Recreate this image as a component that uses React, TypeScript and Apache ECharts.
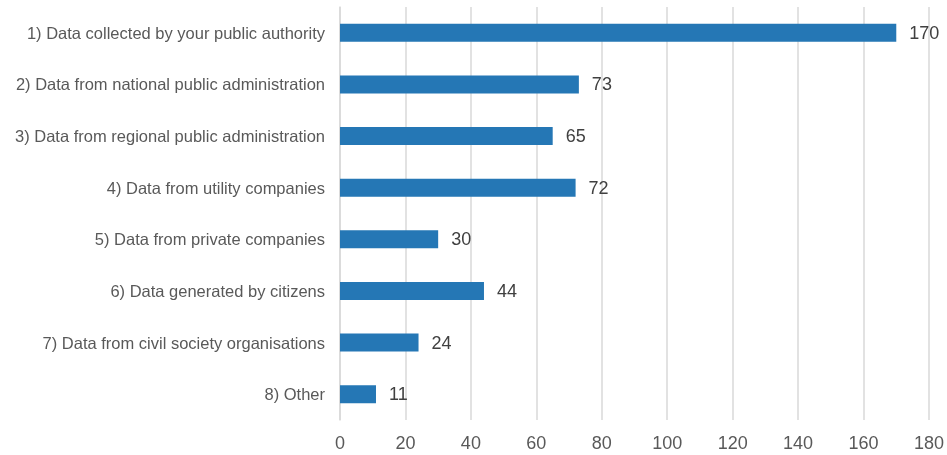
import React, { useEffect, useRef } from "react";
import * as echarts from "echarts";

const categories = [
  "1) Data collected by your public authority",
  "2) Data from national public administration",
  "3) Data from regional public administration",
  "4) Data from utility companies",
  "5) Data from private companies",
  "6) Data generated by citizens",
  "7) Data from civil society organisations",
  "8) Other",
];
const values = [170, 73, 65, 72, 30, 44, 24, 11];
const xMin = 0;
const xMax = 180;
const xInterval = 20;

const FONT = "'Liberation Sans', Arial, sans-serif";

export default function App() {
  const ref = useRef<HTMLDivElement>(null);
  useEffect(() => {
    if (!ref.current) return;
    const chart = echarts.init(ref.current, undefined, { renderer: "svg" });
    chart.setOption({
      animation: false,
      grid: {
        left: 340,
        right: 18,
        top: 7,
        bottom: 35,
        containLabel: false,
        outerBoundsMode: "none",
      },
      xAxis: {
        type: "value",
        min: xMin,
        max: xMax,
        interval: xInterval,
        axisLine: { show: false },
        axisTick: { show: false },
        splitLine: { show: true, lineStyle: { color: "#d9d9d9", width: 1.5 } },
        axisLabel: {
          color: "#595959",
          fontSize: 18,
          fontFamily: FONT,
          margin: 14,
        },
      },
      yAxis: {
        type: "category",
        data: categories,
        inverse: true,
        axisLine: { show: true, lineStyle: { color: "#d9d9d9", width: 1.5 } },
        axisTick: { show: false },
        axisLabel: {
          color: "#595959",
          fontSize: 16.5,
          fontFamily: FONT,
          margin: 15,
        },
      },
      series: [
        {
          type: "bar",
          data: values,
          barWidth: 18,
          itemStyle: { color: "#2577b5" },
          label: {
            show: true,
            position: "right",
            distance: 13,
            color: "#404040",
            fontSize: 18,
            fontFamily: FONT,
          },
        },
      ],
    });
    return () => chart.dispose();
  }, []);
  return <div ref={ref} style={{ width: 947, height: 455, position: "fixed", left: 0, top: 0 }} />;
}
